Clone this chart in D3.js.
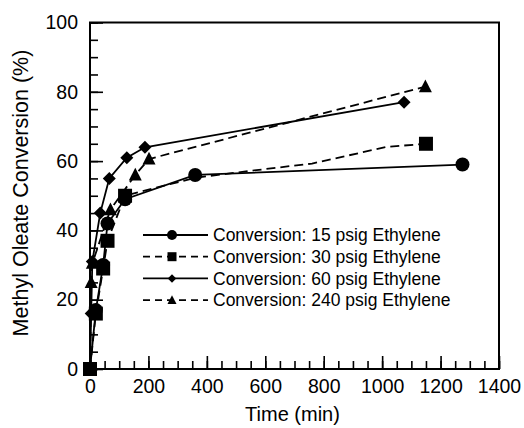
<!DOCTYPE html>
<html>
<head>
<meta charset="utf-8">
<script src="https://cdn.jsdelivr.net/npm/d3@7"></script>
<style>
body{margin:0;background:#fff;}
svg text{font-family:"Liberation Sans",Arial,sans-serif;fill:#000;}
</style>
</head>
<body>
<div id="canvas"></div>
<script>
// data
var seriesNames = ['Conversion: 15 psig Ethylene','Conversion: 30 psig Ethylene','Conversion: 60 psig Ethylene','Conversion: 240 psig Ethylene'];

var time15 = [0, 20, 45, 60, 120, 360, 1275],
    conv15 = [0, 17, 30, 42, 49, 56, 59];

var time30 = [0, 20, 45, 60, 120, 1150],
    conv30 = [0, 16, 29, 37, 50, 65];
// unmarked bends of the 30 psig dashed line
var traceTime30 = [360, 570, 760, 920, 1015],
    traceConv30 = [55.2, 57.4, 59.3, 62.3, 64.1];

var time60 = [0, 4, 8, 35, 66, 126, 188, 1075],
    conv60 = [0, 16, 31, 45, 55, 61, 64, 77];

var time240 = [0, 4, 8, 70, 155, 202, 1148],
    conv240 = [0, 25, 30.5, 46, 56, 60.6, 81.5];

var xTicks = [0, 200, 400, 600, 800, 1000, 1200, 1400],
    yTicks = [0, 20, 40, 60, 80, 100];

var m = {t:22.5, r:25, b:59, l:90},
    W = 524, H = 428,
    w = W - m.l - m.r,
    h = H - m.t - m.b;

var svg = d3.select('#canvas').append('svg')
    .attr('width', W).attr('height', H);

var plot = svg.append('g')
    .attr('transform','translate('+m.l+','+m.t+')');

var x = d3.scaleLinear().domain([0,1400]).range([0,w]),
    y = d3.scaleLinear().domain([0,100]).range([h,0]);

function zip(ts, vs){ return ts.map(function(t,i){ return {t:t, v:vs[i]}; }); }

var series = [
    {name:seriesNames[0], pts:zip(time15,conv15), sym:'circle', dash:null},
    {name:seriesNames[1], pts:zip(time30,conv30), extra:zip(traceTime30,traceConv30), sym:'square', dash:'9,5'},
    {name:seriesNames[2], pts:zip(time60,conv60), sym:'diamond', dash:null},
    {name:seriesNames[3], pts:zip(time240,conv240), sym:'triangle', dash:'9,5'}
];

function symPath(type, s){
    // s = nominal width in px
    if(type=='circle') return d3.symbol(d3.symbolCircle, Math.PI*s*s/4)();
    if(type=='square') return d3.symbol(d3.symbolSquare, s*s)();
    if(type=='diamond'){ var a=s/2; return 'M0,'+(-a)+'L'+a+',0L0,'+a+'L'+(-a)+',0Z'; }
    if(type=='triangle'){ var b=s/2; return 'M0,'+(-b*1.1)+'L'+b+','+(b*0.85)+'L'+(-b)+','+(b*0.85)+'Z'; }
}
var markSize = {circle:14, square:14, diamond:13, triangle:13};
var legSize = {circle:10, square:9, diamond:8.5, triangle:9};

//minor ticks
plot.append('g').attr('class','minor')
    .attr('transform','translate(0,'+h+')')
    .call(d3.axisBottom(x).tickValues(d3.range(0,1401,50)).tickSize(-8).tickFormat(''));
plot.append('g').attr('class','minor')
    .call(d3.axisLeft(y).tickValues(d3.range(0,101,5)).tickSize(-8).tickFormat(''));

//major ticks
plot.append('g').attr('class','xaxis')
    .attr('transform','translate(0,'+h+')')
    .call(d3.axisBottom(x).tickValues(xTicks).tickSize(-13).tickPadding(10).tickFormat(d3.format('d')));
plot.append('g').attr('class','yaxis')
    .call(d3.axisLeft(y).tickValues(yTicks).tickSize(-13).tickPadding(12).tickFormat(d3.format('d')));

plot.selectAll('.domain').remove();
plot.selectAll('.tick line').attr('stroke','#000').attr('stroke-width',1.6);
plot.selectAll('.tick text').style('font-size','19.5px');

//frame
plot.append('rect')
    .attr('width', w).attr('height', h)
    .attr('fill','none').attr('stroke','#000').attr('stroke-width',2);

//lines
var line = d3.line().x(function(d){return x(d.t);}).y(function(d){return y(d.v);});

series.forEach(function(s){
    var pts = s.pts.concat(s.extra || []).sort(function(a,b){return a.t-b.t;});
    plot.append('path')
        .attr('d', line(pts))
        .attr('fill','none')
        .attr('stroke','#000')
        .attr('stroke-width',1.8)
        .attr('stroke-dasharray', s.dash);
});

series.forEach(function(s){
    plot.selectAll(null)
        .data(s.pts)
        .enter()
        .append('path')
        .attr('d', symPath(s.sym, markSize[s.sym]))
        .attr('transform', function(d){ return 'translate('+x(d.t)+','+y(d.v)+')'; })
        .attr('fill','#000');
});

//legend
var leg = svg.append('g').attr('transform','translate(143,235)');
series.forEach(function(s,i){
    var g = leg.append('g').attr('transform','translate(0,'+(i*21.7)+')');
    g.append('line').attr('x1',0).attr('x2',65).attr('y1',0).attr('y2',0)
        .attr('stroke','#000').attr('stroke-width',1.8)
        .attr('stroke-dasharray', s.dash ? '7,5' : null);
    g.append('path').attr('d', symPath(s.sym, legSize[s.sym]))
        .attr('transform','translate(29,0)').attr('fill','#000');
    g.append('text').attr('x',70).attr('y',0).attr('dy','0.35em')
        .style('font-size','17.5px').text(s.name);
});

//axis titles
svg.append('text')
    .attr('x', m.l + w/2 - 2).attr('y', 421)
    .attr('text-anchor','middle')
    .style('font-size','20px')
    .text('Time (min)');

svg.append('text')
    .attr('transform','translate(28,193) rotate(-90)')
    .attr('text-anchor','middle')
    .style('font-size','21.5px')
    .text('Methyl Oleate Conversion (%)');
</script>
</body>
</html>
